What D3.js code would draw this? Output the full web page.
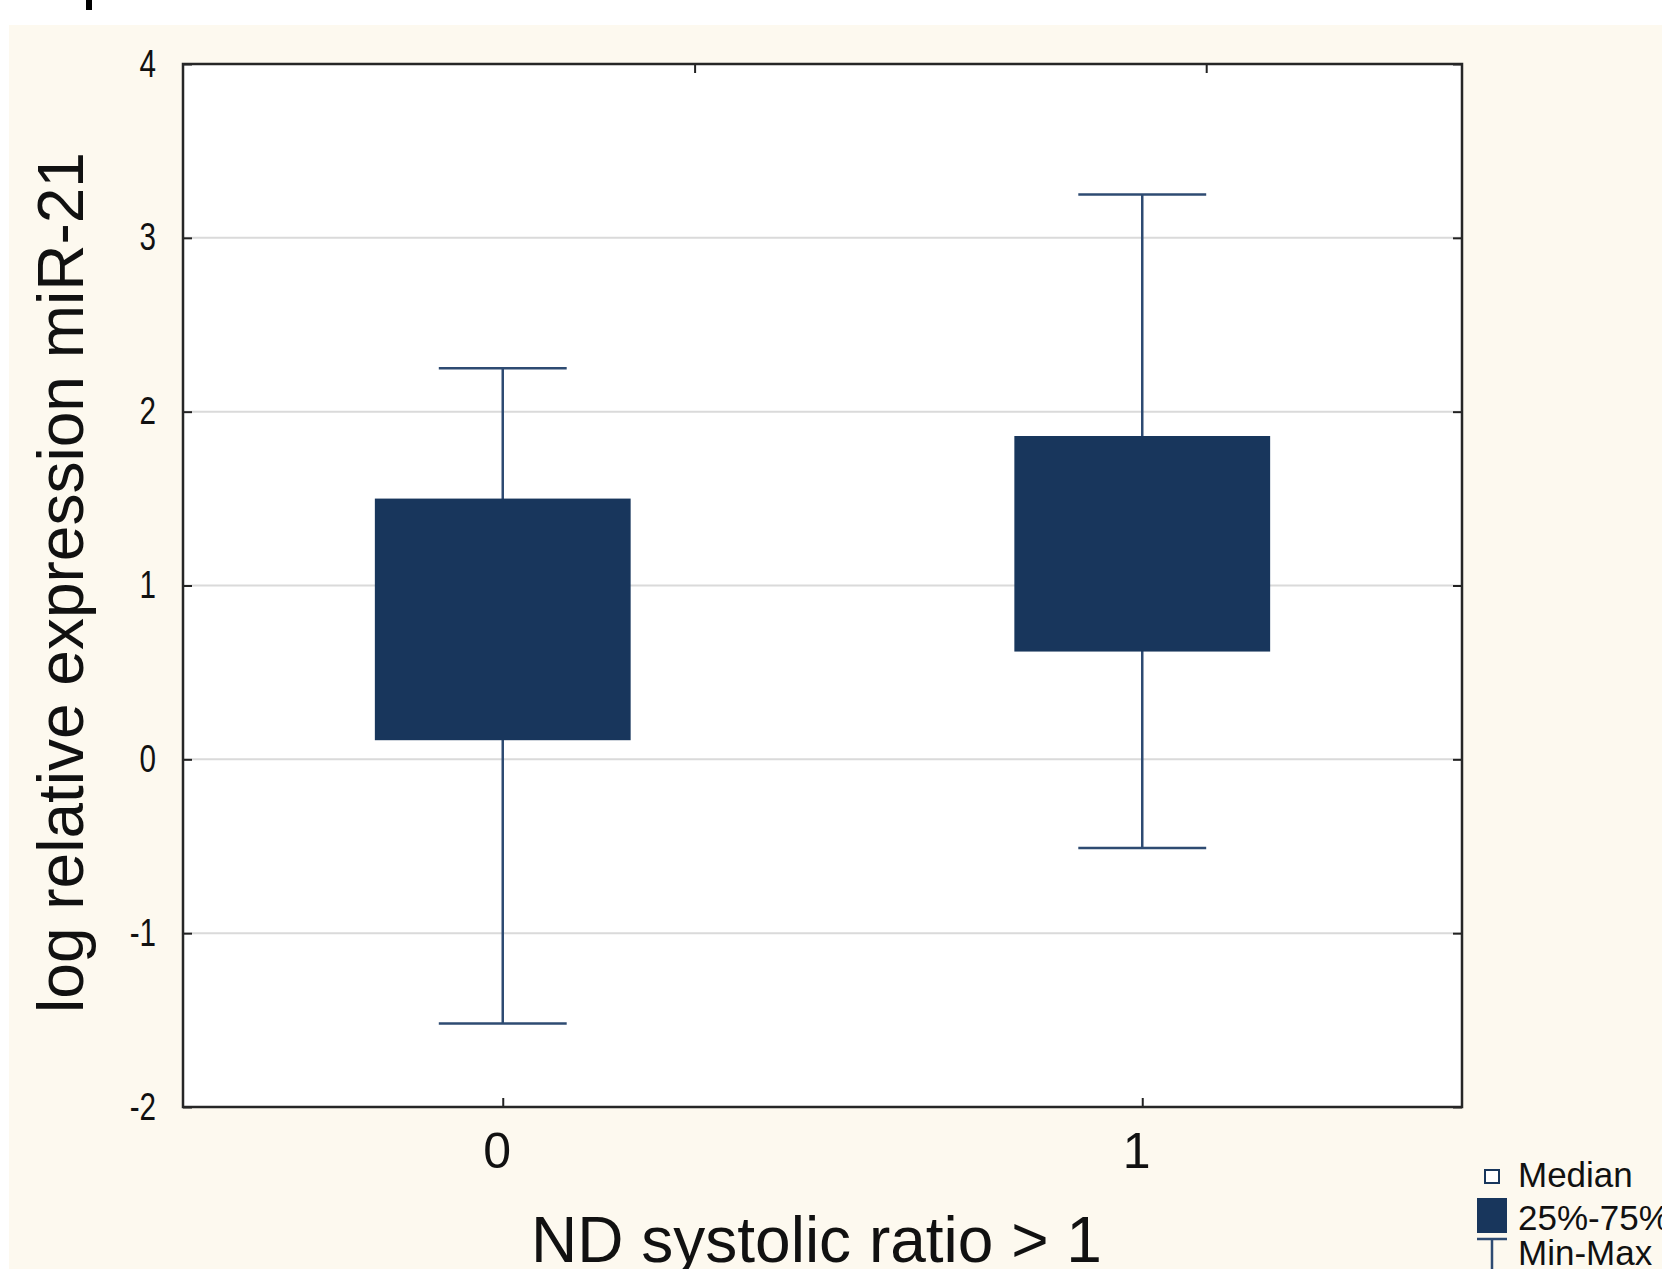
<!DOCTYPE html>
<meta charset="utf-8">

<!-- Load d3.js -->
<script src="https://d3js.org/d3.v7.min.js"></script>
<style>
  body { margin: 0; background: #fff; }
</style>

<!-- Create a div where the graph will take place -->
<div id="my_dataviz"></div>

<script>

// box plot summary values
var groups = ["0", "1"];
var q1 = [0.11, 0.62];
var q3 = [1.50, 1.86];
var mins = [-1.52, -0.51];
var maxs = [2.25, 3.25];

var yTicks = [-2, -1, 0, 1, 2, 3, 4];
var topTicks = [2, 4];
var legendLabels = ["Median", "25%-75%", "Min-Max"];

var boxColor = "#18365c";
var lineColor = "#2e4b72";

// set the dimensions and margins of the graph
var margin = {top: 64, right: 200, bottom: 162, left: 183},
    fullW = 1662, fullH = 1269,
    width = fullW - margin.left - margin.right,
    height = fullH - margin.top - margin.bottom;

var root = d3.select("#my_dataviz")
  .append("svg")
    .attr("width", fullW)
    .attr("height", fullH);

// cream panel behind the chart
root.append("rect")
  .attr("x", 9).attr("y", 25)
  .attr("width", fullW - 9).attr("height", fullH - 25)
  .attr("fill", "#fdf9ef");

// bit of a cut-off glyph at the very top
root.append("rect")
  .attr("x", 86).attr("y", 0)
  .attr("width", 6).attr("height", 10)
  .attr("fill", "#000");

var svg = root.append("g")
  .attr("transform", "translate(" + margin.left + "," + margin.top + ")");

svg.append("rect")
  .attr("width", width).attr("height", height)
  .attr("fill", "#fff");

// scales
var x = d3.scalePoint()
  .domain(groups)
  .range([0, width])
  .padding(0.5);

var y = d3.scaleLinear()
  .domain([-2, 4])
  .range([height, 0]);

var xTop = d3.scaleLinear()
  .domain([0, 5])
  .range([0, width]);

var boxW = width * 0.2;

// grid
svg.selectAll(".grid")
  .data(yTicks.slice(1, -1))
  .enter()
  .append("line")
    .attr("x1", 0).attr("x2", width)
    .attr("y1", function(d) { return y(d); })
    .attr("y2", function(d) { return y(d); })
    .attr("stroke", "#dadada")
    .attr("stroke-width", 2);

// axes (ticks pointing inwards)
var yAxis = svg.append("g")
  .call(d3.axisLeft(y).tickValues(yTicks).tickSize(-9).tickPadding(27)
    .tickFormat(function(d) { return String(d); }));
// condensed look of the original tick font
yAxis.selectAll("text")
  .attr("x", -27 / 0.78)
  .attr("transform", "scale(0.78,1)")
  .style("font-family", "'Liberation Sans', Arial, sans-serif")
  .style("font-size", "38px")
  .attr("fill", "#111");

var xAxis = svg.append("g")
  .attr("transform", "translate(0," + height + ")")
  .call(d3.axisBottom(x).tickSize(-9).tickPadding(25));
xAxis.selectAll("text")
  .attr("dx", -6)
  .style("font-family", "'Liberation Sans', Arial, sans-serif")
  .style("font-size", "50px")
  .attr("fill", "#111");

svg.append("g")
  .call(d3.axisTop(xTop).tickValues(topTicks).tickSize(-9).tickFormat(""));

svg.append("g")
  .attr("transform", "translate(" + width + ",0)")
  .call(d3.axisRight(y).tickValues(yTicks).tickSize(-9).tickFormat(""));

svg.selectAll(".domain").remove();
svg.selectAll(".tick line").attr("stroke", "#222").attr("stroke-width", 2);

// whiskers
var idx = d3.range(groups.length);

svg.selectAll(".whisker")
  .data(idx)
  .enter()
  .append("line")
    .attr("x1", function(i) { return x(groups[i]); })
    .attr("x2", function(i) { return x(groups[i]); })
    .attr("y1", function(i) { return y(mins[i]); })
    .attr("y2", function(i) { return y(maxs[i]); })
    .attr("stroke", lineColor)
    .attr("stroke-width", 2.5);

[mins, maxs].forEach(function(arr) {
  svg.selectAll(null)
    .data(idx)
    .enter()
    .append("line")
      .attr("x1", function(i) { return x(groups[i]) - boxW / 4; })
      .attr("x2", function(i) { return x(groups[i]) + boxW / 4; })
      .attr("y1", function(i) { return y(arr[i]); })
      .attr("y2", function(i) { return y(arr[i]); })
      .attr("stroke", lineColor)
      .attr("stroke-width", 2.5);
});

// boxes
svg.selectAll(".box")
  .data(idx)
  .enter()
  .append("rect")
    .attr("x", function(i) { return x(groups[i]) - boxW / 2; })
    .attr("y", function(i) { return y(q3[i]); })
    .attr("width", boxW)
    .attr("height", function(i) { return y(q1[i]) - y(q3[i]); })
    .attr("fill", boxColor);

// frame
svg.append("rect")
  .attr("width", width).attr("height", height)
  .attr("fill", "none")
  .attr("stroke", "#262626")
  .attr("stroke-width", 2.5);

// axis titles
root.append("text")
  .attr("x", margin.left + width / 2 - 6)
  .attr("y", 1262)
  .attr("text-anchor", "middle")
  .style("font-family", "'Liberation Sans', Arial, sans-serif")
  .style("font-size", "64px")
  .attr("fill", "#111")
  .text("ND systolic ratio > 1");

root.append("text")
  .attr("transform", "translate(83," + (margin.top + height / 2 - 3) + ") rotate(-90)")
  .attr("text-anchor", "middle")
  .style("font-family", "'Liberation Sans', Arial, sans-serif")
  .style("font-size", "64px")
  .attr("fill", "#111")
  .text("log relative expression miR-21");

// legend
var lg = root.append("g").attr("transform", "translate(1477,1187)");
var rowH = 43;

lg.append("rect")
  .attr("x", 8).attr("y", -17)
  .attr("width", 14).attr("height", 13)
  .attr("fill", "#fff")
  .attr("stroke", boxColor)
  .attr("stroke-width", 2);

lg.append("rect")
  .attr("x", 0).attr("y", rowH - 32)
  .attr("width", 30).attr("height", 35)
  .attr("fill", boxColor);

lg.append("line")
  .attr("x1", 0).attr("x2", 30)
  .attr("y1", 2 * rowH - 34).attr("y2", 2 * rowH - 34)
  .attr("stroke", lineColor).attr("stroke-width", 2.5);
lg.append("line")
  .attr("x1", 15).attr("x2", 15)
  .attr("y1", 2 * rowH - 34).attr("y2", 2 * rowH + 10)
  .attr("stroke", lineColor).attr("stroke-width", 2.5);

lg.selectAll(".lgtext")
  .data(legendLabels)
  .enter()
  .append("text")
    .attr("x", 41)
    .attr("y", function(d, i) { return i * rowH - (i === 2 ? 8 : 0); })
    .style("font-family", "'Liberation Sans', Arial, sans-serif")
    .style("font-size", "35px")
    .attr("fill", "#111")
    .text(function(d) { return d; });

</script>
